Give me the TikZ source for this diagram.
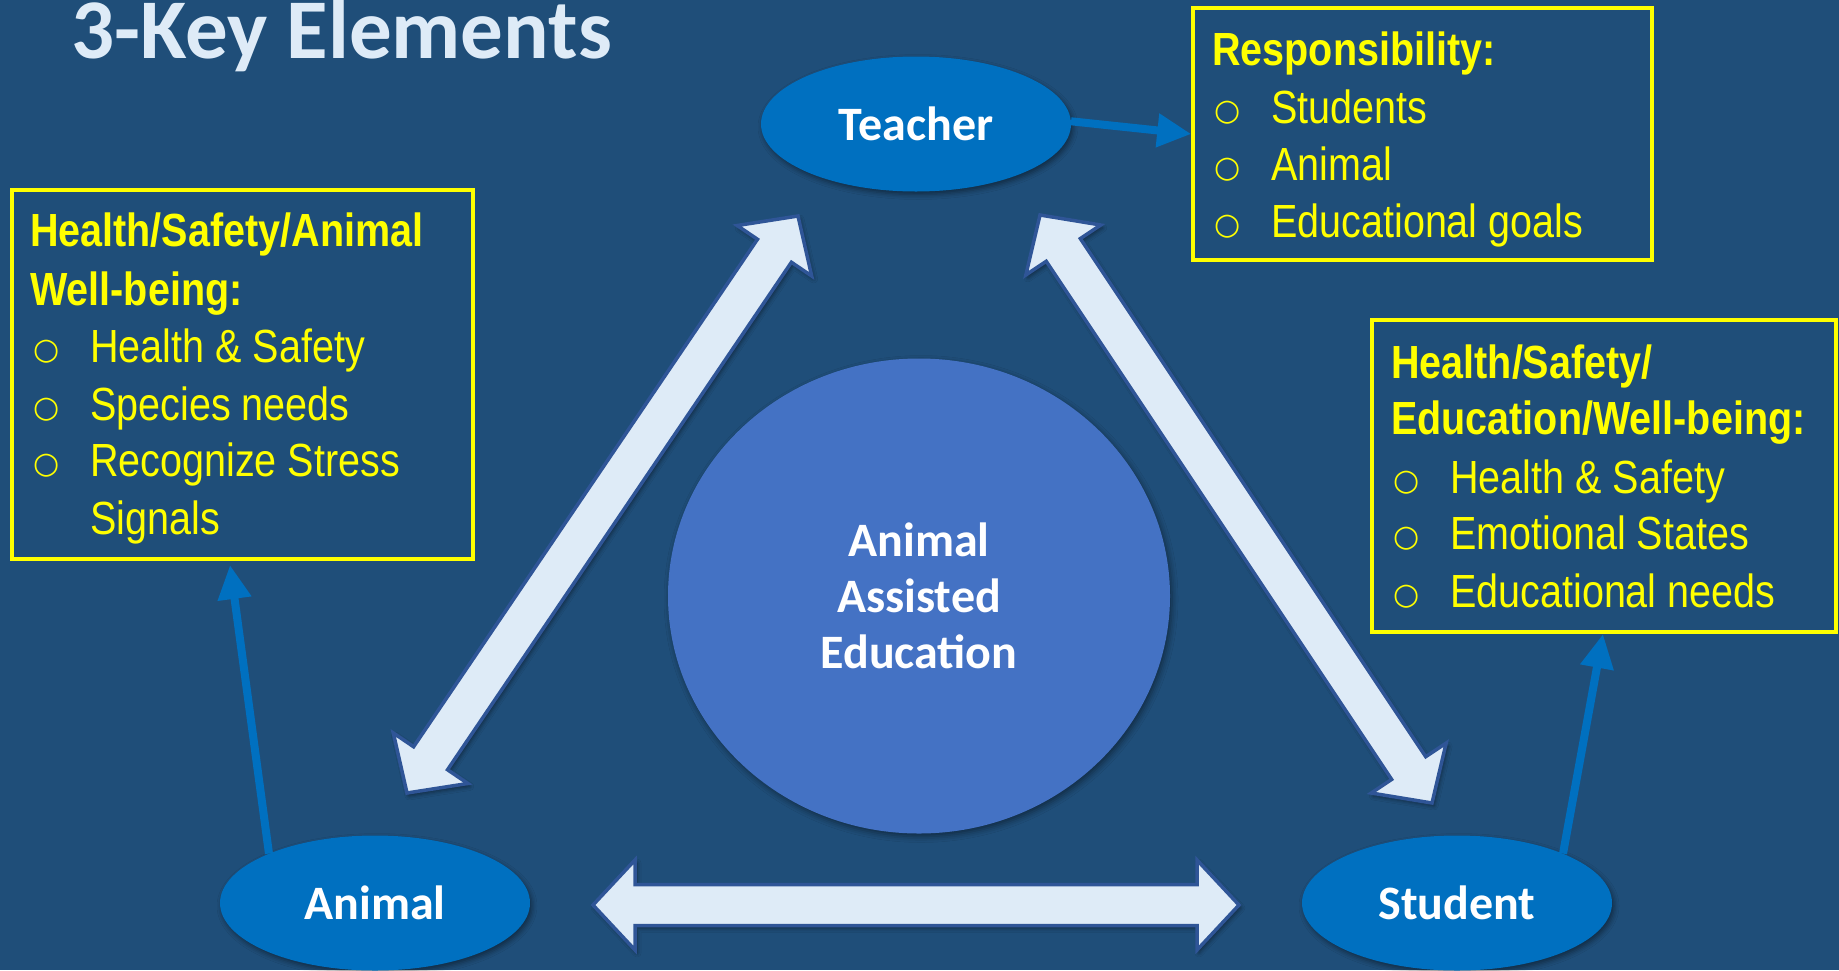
\documentclass[tikz,border=0pt]{standalone}
\usepackage{fontspec}
\setmainfont{Liberation Sans}
\newfontfamily\narrowfont{Liberation Sans}[FakeStretch=0.85]
\newfontfamily\calfont{Carlito}
\newfontfamily\bulletfont{DejaVu Sans}
\usetikzlibrary{calc,arrows.meta,shapes.geometric,shadows.blur}
\definecolor{bg}{HTML}{1F4E79}
\definecolor{keyblue}{HTML}{0070C0}
\definecolor{centerblue}{HTML}{4472C4}
\definecolor{arrowfill}{HTML}{DEEBF7}
\definecolor{arrowline}{HTML}{2F5597}
\definecolor{titlecol}{HTML}{DEEBF7}
\definecolor{yel}{HTML}{FFFF00}
\newcommand{\ahl}{42pt}
\newcommand{\ahw}{45pt}
\newcommand{\asw}{20.5pt}
\newcommand{\dblarrow}[2]{%
\draw[bigarrow] (#1)
 -- ($(#1)!\ahl!(#2)!\ahw!90:(#2)$)
 -- ($(#1)!\ahl!(#2)!\asw!90:(#2)$)
 -- ($(#2)!\ahl!(#1)!\asw!-90:(#1)$)
 -- ($(#2)!\ahl!(#1)!\ahw!-90:(#1)$)
 -- (#2)
 -- ($(#2)!\ahl!(#1)!\ahw!90:(#1)$)
 -- ($(#2)!\ahl!(#1)!\asw!90:(#1)$)
 -- ($(#1)!\ahl!(#2)!\asw!-90:(#2)$)
 -- ($(#1)!\ahl!(#2)!\ahw!-90:(#2)$)
 -- cycle;}
\begin{document}
\begin{tikzpicture}[x=1pt,y=-1pt,
  titletext/.style={font=\calfont\bfseries\fontsize{85}{90}\selectfont, text=titlecol, anchor=base west, inner sep=0},
  keyell/.style={ellipse, fill=keyblue, minimum width=310pt, minimum height=135pt, inner sep=0,
     text=white, font=\calfont\bfseries\fontsize{48}{56}\selectfont,
     blur shadow={shadow xshift=2pt, shadow yshift=-3pt, shadow blur radius=5pt, shadow opacity=45}},
  centerell/.style={ellipse, fill=centerblue, minimum width=502pt, minimum height=475pt, inner sep=0,
     text=white, align=center, font=\calfont\bfseries\fontsize{48}{56}\selectfont,
     blur shadow={shadow xshift=2pt, shadow yshift=-3pt, shadow blur radius=6pt, shadow opacity=45}},
  bigarrow/.style={fill=arrowfill, draw=arrowline, line width=3.5pt, line join=miter,
     blur shadow={shadow xshift=2pt, shadow yshift=-3pt, shadow blur radius=4pt, shadow opacity=45}},
  ybox/.style={draw=yel, line width=3.5pt, rectangle, inner sep=0},
  thinarrow/.style={draw=keyblue, line width=8pt, -{Triangle[length=34pt,width=32pt]}},
  head/.style={font=\narrowfont\bfseries\fontsize{46.5}{56}\selectfont, text=yel, anchor=base west, inner sep=0},
  itm/.style={font=\narrowfont\fontsize{46.5}{56}\selectfont, text=yel, anchor=base west, inner sep=0},
  bul/.style={font=\bulletfont\fontsize{30}{56}\selectfont, text=yel, anchor=base west, inner sep=0}
]
\useasboundingbox (0,0) rectangle (1839,970);
\fill[bg] (0,0) rectangle (1839,970);

% title
\node[titletext] (title) at (71,58) {3-Key Elements};

% big double arrows
\coordinate (d1a) at (407,793);
\coordinate (d1b) at (798,216);
\coordinate (d2a) at (1040,215);
\coordinate (d2b) at (1432,803);
\coordinate (d3a) at (593,905);
\coordinate (d3b) at (1239,905);
\dblarrow{d1a}{d1b}
\dblarrow{d2a}{d2b}
\dblarrow{d3a}{d3b}

% key ellipses
\node[keyell] (teacher) at (916,124) {Teacher};
\node[keyell] (animal) at (375,903) {Animal};
\node[keyell] (student) at (1457,903) {Student};

% centre
\node[centerell] (aae) at (919,596) {Animal\\Assisted\\Education};

% boxes
\node[ybox, minimum width=461pt, minimum height=369pt] (leftbox) at (242.5,374.5) {};
\node[ybox, minimum width=459pt, minimum height=252pt] (resp) at (1422.5,134) {};
\node[ybox, minimum width=464pt, minimum height=312pt] (rightbox) at (1604,476) {};

% thin connectors
\coordinate (ltip) at (230,565);
\coordinate (rtip) at (1603,634);
\draw[thinarrow] (teacher.1.5) -- (resp.west);
\draw[thinarrow] (animal.155) -- (ltip);
\draw[thinarrow] (student.25) -- (rtip);

% left box text
\node[head] (lh1) at (30,246.7) {Health/Safety/Animal};
\node[head] (lh2) at (30,305) {Well-being:};
\node[bul] (lb1) at (33,359.7) {○};
\node[itm] (li1) at (90,362.7) {Health \& Safety};
\node[bul] (lb2) at (33,417) {○};
\node[itm] (li2) at (90,420) {Species needs};
\node[bul] (lb3) at (33,473.7) {○};
\node[itm] (li3) at (90,476.7) {Recognize Stress};
\node[itm] (li4) at (90,534) {Signals};

% responsibility box text
\node[head] (rh1) at (1212,65) {Responsibility:};
\node[bul] (rb1) at (1214,120) {○};
\node[itm] (ri1) at (1271,123) {Students};
\node[bul] (rb2) at (1214,177) {○};
\node[itm] (ri2) at (1271,180) {Animal};
\node[bul] (rb3) at (1214,234) {○};
\node[itm] (ri3) at (1271,237) {Educational goals};

% right box text
\node[head] (sh1) at (1391,378) {Health/Safety/};
\node[head] (sh2) at (1391,434) {Education/Well-being:};
\node[bul] (sb1) at (1393,490) {○};
\node[itm] (si1) at (1450,493) {Health \& Safety};
\node[bul] (sb2) at (1393,546) {○};
\node[itm] (si2) at (1450,549) {Emotional States};
\node[bul] (sb3) at (1393,604) {○};
\node[itm] (si3) at (1450,607) {Educational needs};
\end{tikzpicture}
\end{document}
